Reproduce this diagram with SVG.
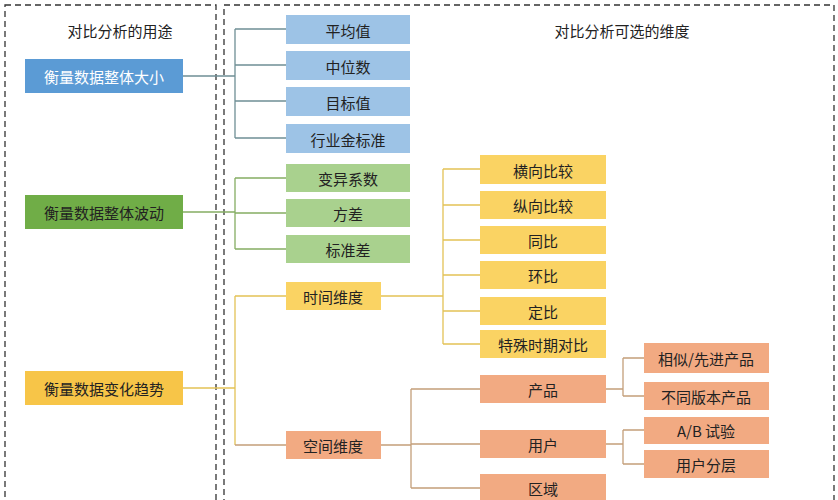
<svg xmlns="http://www.w3.org/2000/svg" width="838" height="500" viewBox="0 0 838 500">
<style>
text{font-family:"Noto Sans CJK SC","Liberation Sans",sans-serif;font-size:15px;text-anchor:middle;dominant-baseline:central;fill:#222}
.frame{fill:none;stroke:#333;stroke-width:1.3;stroke-dasharray:6 4}
.b1{fill:#5b9bd5}.b2{fill:#9dc3e6}.g1{fill:#70ad47}.g2{fill:#a9d18e}.y1{fill:#f7c548}.y2{fill:#fad363}.o{fill:#f2aa82}
.w{fill:#fff}
.lb{stroke:#6f8f95;fill:none;stroke-width:1.3}.lg{stroke:#85ad63;fill:none;stroke-width:1.3}.ly{stroke:#e3c256;fill:none;stroke-width:1.3}.lo{stroke:#c49f7a;fill:none;stroke-width:1.3}
</style>
<rect width="838" height="500" fill="#fff"/>
<rect class="frame" x="5" y="5" width="211" height="510"/>
<rect class="frame" x="224" y="5" width="610" height="510"/>
<text x="120" y="30">对比分析的用途</text>
<text x="622" y="30">对比分析可选的维度</text>
<g id="connectors">
<path class="lb" d="M183 76H235M235 29V138M235 29H286M235 65H286M235 101H286M235 138H286"/>
<path class="lg" d="M183 212H235M235 178V249M235 178H286M235 213H286M235 249H286"/>
<path class="ly" d="M183 388H235M235 296V445M235 296H286M381 296H443M443 169V344M443 169H480M443 205H480M443 240H480M443 275H480M443 311H480M443 344H480"/>
<path class="lo" d="M235 445H286M381 445H411M411 389V488M411 389H480M411 444H480M411 488H480M606 389H623M623 358V396M623 358H644M623 396H644M606 444H623M623 430V464M623 430H644M623 464H644"/>
</g>
<g id="n1"><rect class="b1" x="25" y="59" width="158" height="34"/><text class="w" x="104" y="76">衡量数据整体大小</text></g>
<g id="n2"><rect class="g1" x="25" y="195" width="158" height="34"/><text x="104" y="212">衡量数据整体波动</text></g>
<g id="n3"><rect class="y1" x="25" y="371" width="158" height="34"/><text x="104" y="388">衡量数据变化趋势</text></g>
<g id="b_1"><rect class="b2" x="286" y="15" width="124" height="29"/><text x="348" y="30">平均值</text></g>
<g id="b_2"><rect class="b2" x="286" y="51" width="124" height="29"/><text x="348" y="66">中位数</text></g>
<g id="b_3"><rect class="b2" x="286" y="87" width="124" height="29"/><text x="348" y="102">目标值</text></g>
<g id="b_4"><rect class="b2" x="286" y="124" width="124" height="29"/><text x="348" y="139">行业金标准</text></g>
<g id="g_1"><rect class="g2" x="286" y="164" width="124" height="28"/><text x="348" y="178">变异系数</text></g>
<g id="g_2"><rect class="g2" x="286" y="199" width="124" height="28"/><text x="348" y="213">方差</text></g>
<g id="g_3"><rect class="g2" x="286" y="235" width="124" height="28"/><text x="348" y="249">标准差</text></g>
<g id="t0"><rect class="y2" x="286" y="282" width="95" height="28"/><text x="333" y="296">时间维度</text></g>
<g id="s0"><rect class="o" x="286" y="431" width="95" height="28"/><text x="333" y="445">空间维度</text></g>
<g id="t1"><rect class="y2" x="480" y="155" width="126" height="29"/><text x="543" y="170">横向比较</text></g>
<g id="t2"><rect class="y2" x="480" y="191" width="126" height="28"/><text x="543" y="205">纵向比较</text></g>
<g id="t3"><rect class="y2" x="480" y="226" width="126" height="28"/><text x="543" y="240">同比</text></g>
<g id="t4"><rect class="y2" x="480" y="261" width="126" height="28"/><text x="543" y="275">环比</text></g>
<g id="t5"><rect class="y2" x="480" y="297" width="126" height="28"/><text x="543" y="311">定比</text></g>
<g id="t6"><rect class="y2" x="480" y="330" width="126" height="28"/><text x="543" y="344">特殊时期对比</text></g>
<g id="s1"><rect class="o" x="480" y="375" width="126" height="28"/><text x="543" y="389">产品</text></g>
<g id="s2"><rect class="o" x="480" y="430" width="126" height="28"/><text x="543" y="444">用户</text></g>
<g id="s3"><rect class="o" x="480" y="474" width="126" height="28"/><text x="543" y="488">区域</text></g>
<g id="p1"><rect class="o" x="644" y="343" width="125" height="30"/><text x="706" y="358">相似/先进产品</text></g>
<g id="p2"><rect class="o" x="644" y="382" width="125" height="28"/><text x="706" y="396">不同版本产品</text></g>
<g id="u1"><rect class="o" x="644" y="417" width="125" height="27"/><text x="706" y="430">A/B 试验</text></g>
<g id="u2"><rect class="o" x="644" y="450" width="125" height="28"/><text x="706" y="464">用户分层</text></g>
</svg>
